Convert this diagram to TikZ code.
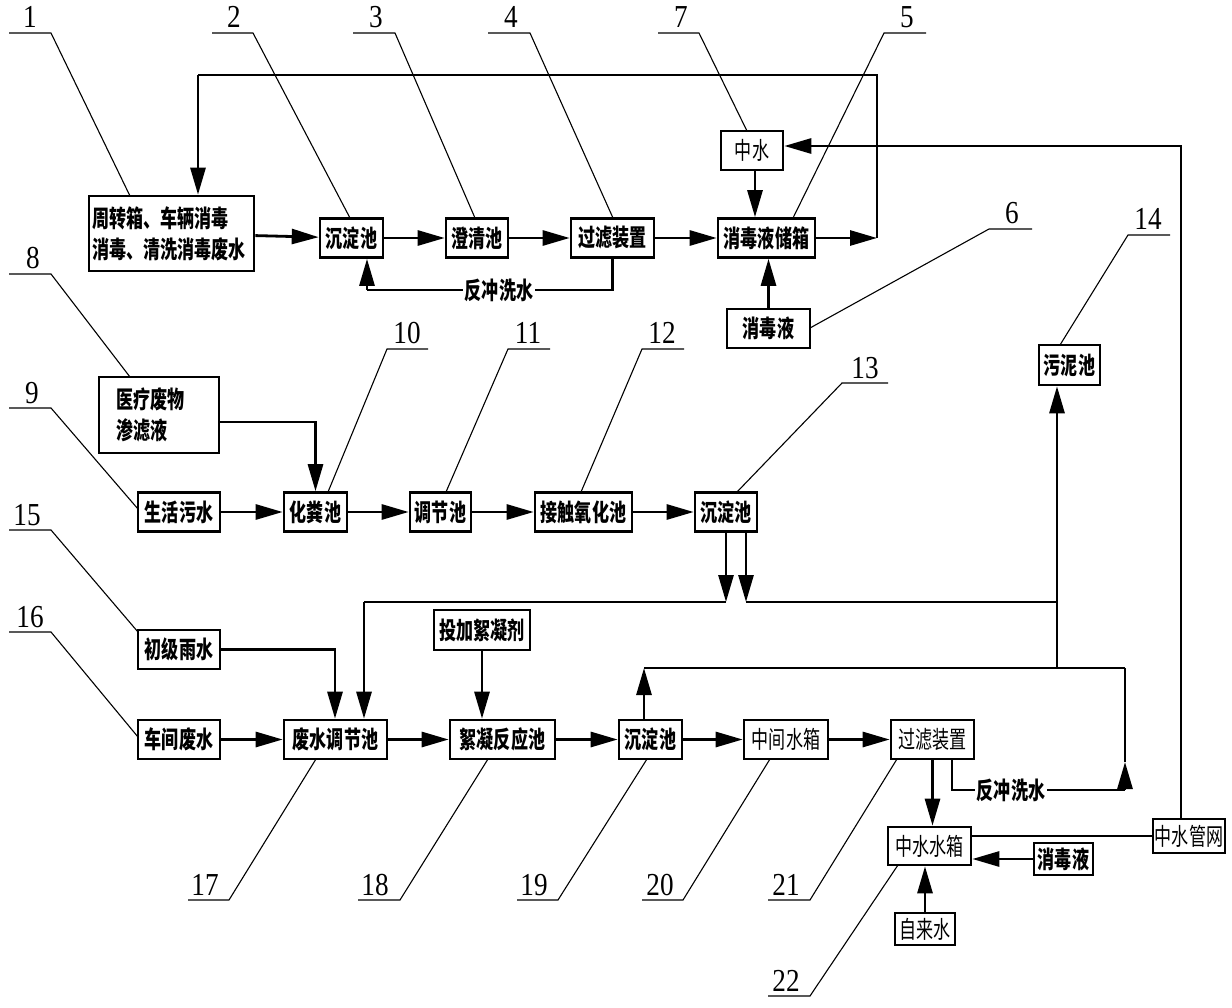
\documentclass[tikz,border=0pt]{standalone}
\usepackage{fontspec}
\setmainfont{Liberation Serif}
\newfontfamily\numf[FakeStretch=0.85]{Liberation Serif}
\newfontfamily\cjk[FakeStretch=0.71]{Noto Sans CJK SC}
\usetikzlibrary{arrows.meta}
\begin{document}
\begin{tikzpicture}[x=1pt,y=-1pt,
  box/.style={draw, line width=2.6pt, inner sep=0pt, minimum height=39pt, font=\cjk\bfseries\fontsize{24}{31}\selectfont},
  lbox/.style={box, font=\cjk\fontsize{24}{31}\selectfont},
  lab/.style={fill=white, inner sep=2pt, font=\cjk\bfseries\fontsize{24}{31}\selectfont},
  flow/.style={line width=2.8pt},
  arr/.style={flow, -{Triangle[length=27pt,width=15pt]}},
  lead/.style={line width=1.1pt},
  num/.style={anchor=base, inner sep=0pt, font=\numf\fontsize{32}{32}\selectfont}]
\useasboundingbox (0,0) rectangle (1232,1008);

% ---------- boxes ----------
\node[box, minimum width=165pt, minimum height=75pt, align=left, text width=159pt] (b1) at (171.5,233.5) {周转箱、车辆消毒\\消毒、清洗消毒废水};
\node[box, minimum width=63pt] (b2) at (351.5,238) {沉淀池};
\node[box, minimum width=62pt] (b3) at (477,238) {澄清池};
\node[box, minimum width=83pt] (b4) at (612.5,238) {过滤装置};
\node[box, minimum width=97pt] (b5) at (766.5,238) {消毒液储箱};
\node[lbox, minimum width=62pt] (b7) at (752,150.5) {中水};
\node[box, minimum width=83pt] (b6) at (768.5,328.5) {消毒液};
\node[box, minimum width=61pt, minimum height=40pt] (b14) at (1069.5,365) {污泥池};
\node[box, minimum width=120pt, minimum height=76pt, align=left, text width=86pt] (b8) at (159,415) {医疗废物\\渗滤液};
\node[box, minimum width=82pt] (b9) at (179,512) {生活污水};
\node[box, minimum width=63pt] (b10) at (315.5,512) {化粪池};
\node[box, minimum width=61pt] (b11) at (440.5,512) {调节池};
\node[box, minimum width=97pt] (b12) at (583.5,512) {接触氧化池};
\node[box, minimum width=62pt] (b13) at (726,512) {沉淀池};
\node[box, minimum width=82pt] (b15) at (179,649.5) {初级雨水};
\node[box, minimum width=96pt, minimum height=40pt] (bf) at (482,630) {投加絮凝剂};
\node[box, minimum width=82pt] (b16) at (179,739.5) {车间废水};
\node[box, minimum width=103pt] (b17) at (335.5,739.5) {废水调节池};
\node[box, minimum width=105pt] (b18) at (502.5,739.5) {絮凝反应池};
\node[box, minimum width=63pt] (b19) at (650.5,739.5) {沉淀池};
\node[lbox, minimum width=84pt] (b20) at (786,739.5) {中间水箱};
\node[lbox, minimum width=83pt] (b21) at (932.5,739.5) {过滤装置};
\node[lbox, minimum width=83pt, minimum height=38pt] (b22) at (929.5,846) {中水水箱};
\node[lbox, minimum width=72pt, minimum height=34pt] (bnet) at (1189,836) {中水管网};
\node[box, minimum width=59pt, minimum height=32pt] (bdis) at (1063.5,859) {消毒液};
\node[lbox, minimum width=60pt, minimum height=32pt] (btap) at (925,929) {自来水};

% ---------- junctions ----------
\coordinate (J1) at (877,238);
\coordinate (J2) at (198,75);
\coordinate (J3) at (612.5,290);
\coordinate (J4) at (367,290);
\coordinate (J5) at (1181,146);
\coordinate (J6) at (315.5,422);
\coordinate (J7) at (726,602);
\coordinate (J8) at (746,602);
\coordinate (J9) at (1057,602);
\coordinate (J10) at (364,602);
\coordinate (J11) at (1057,668);
\coordinate (J12) at (644,668);
\coordinate (J13) at (1125,668);
\coordinate (J14) at (952,790);
\coordinate (J15) at (1125,790);
\coordinate (J16) at (1125,762);
\coordinate (J17) at (335,649.5);

% ---------- top line ----------
\draw[arr] (b1) -- (b2);
\draw[arr] (b2) -- (b3);
\draw[arr] (b3) -- (b4);
\draw[arr] (b4) -- (b5);
\draw[arr] (b5) -- (J1);
\draw[flow] (J1) |- (J2);
\draw[arr] (J2) -- (J2 |- b1.north);
\draw[flow] (b4.south) -- (J3) -- (J4);
\draw[arr] (J4) -- (J4 |- b2.south);
\node[lab] (t1) at (499,290) {反冲洗水};
\draw[arr] ([xshift=3pt]b7.south) -- ([xshift=3pt]b7.south |- b5.north);
\draw[arr] (b6.north) -- (b6.north |- b5.south);
\draw[arr] (J5 |- bnet.north) -- (J5) -- (J5 -| b7.east);

% ---------- middle line ----------
\draw[arr] (b8.east |- J6) -- (J6) -- (b10.north);
\draw[arr] (b9) -- (b10);
\draw[arr] (b10) -- (b11);
\draw[arr] (b11) -- (b12);
\draw[arr] (b12) -- (b13);
\draw[arr] (J7 |- b13.south) -- (J7);
\draw[arr] (J8 |- b13.south) -- (J8);
\draw[flow] (J7) -- (J10);
\draw[arr] (J10) -- (J10 |- b17.north);
\draw[flow] (J8) -- (J9);
\draw[arr] (J11) -- (J11 |- b14.south);
\draw[flow] (J12) -- (J13);

% ---------- bottom line ----------
\draw[arr] (b15.east) -- (J17) -- (J17 |- b17.north);
\draw[arr] (bf.south) -- (bf.south |- b18.north);
\draw[arr] (b16) -- (b17);
\draw[arr] (b17) -- (b18);
\draw[arr] (b18) -- (b19);
\draw[arr] (b19) -- (b20);
\draw[arr] (b20) -- (b21);
\draw[arr] (J12 |- b19.north) -- (J12);
\draw[flow] (J14 |- b21.south) -- (J14) -- (J15);
\draw[arr] (J15) -- (J16);
\draw[flow] (J16) -- (J13);
\node[lab] (t2) at (1011,790) {反冲洗水};
\draw[arr] (b21.south) -- (b21.south |- b22.north);
\draw[flow] (bnet.west -| b22.east) -- (bnet.west);
\draw[arr] (bdis.west) -- (bdis.west -| b22.east);
\draw[arr] (btap.north) -- (btap.north |- b22.south);

% ---------- callouts ----------
\node[num] (n1) at (30,28) {1};   \draw[lead] (9,33) -- (51,33) -- (130,196);
\node[num] (n2) at (234,28) {2};  \draw[lead] (212,33) -- (253,33) -- (350,218);
\node[num] (n3) at (376,28) {3};  \draw[lead] (353,33) -- (395,33) -- (475,218);
\node[num] (n4) at (511,28) {4};  \draw[lead] (488,33) -- (530,33) -- (613,218);
\node[num] (n7) at (681,28) {7};  \draw[lead] (658,33) -- (699,33) -- (747,131);
\node[num] (n5) at (907,28) {5};  \draw[lead] (926,33) -- (884,33) -- (793,218);
\node[num] (n6) at (1012,224) {6}; \draw[lead] (1032,229) -- (989,229) -- (810,328);
\node[num] (n14) at (1148,230) {14}; \draw[lead] (1170,235) -- (1128,235) -- (1060,345);
\node[num] (n8) at (33,269) {8};  \draw[lead] (9,274) -- (51,274) -- (130,377);
\node[num] (n9) at (32,403) {9};  \draw[lead] (9,408) -- (51,408) -- (138,509);
\node[num] (n10) at (407,344) {10}; \draw[lead] (428,349) -- (387,349) -- (328,492);
\node[num] (n11) at (528,344) {11}; \draw[lead] (550,349) -- (508,349) -- (446,492);
\node[num] (n12) at (662,344) {12}; \draw[lead] (684,349) -- (642,349) -- (581,492);
\node[num] (n13) at (865,378) {13}; \draw[lead] (888,383) -- (842,383) -- (737,492);
\node[num] (n15) at (27,525) {15}; \draw[lead] (9,530) -- (51,530) -- (138,632);
\node[num] (n16) at (30,627) {16}; \draw[lead] (9,632) -- (51,632) -- (138,737);
\node[num] (n17) at (205,895) {17}; \draw[lead] (188,900) -- (229,900) -- (316,759);
\node[num] (n18) at (375,895) {18}; \draw[lead] (358,900) -- (400,900) -- (488,759);
\node[num] (n19) at (534,895) {19}; \draw[lead] (517,900) -- (558,900) -- (647,759);
\node[num] (n20) at (660,895) {20}; \draw[lead] (642,900) -- (683,900) -- (770,759);
\node[num] (n21) at (786,895) {21}; \draw[lead] (768,900) -- (810,900) -- (897,759);
\node[num] (n22) at (786,991) {22}; \draw[lead] (768,996) -- (810,996) -- (898,865);
\end{tikzpicture}
\end{document}
